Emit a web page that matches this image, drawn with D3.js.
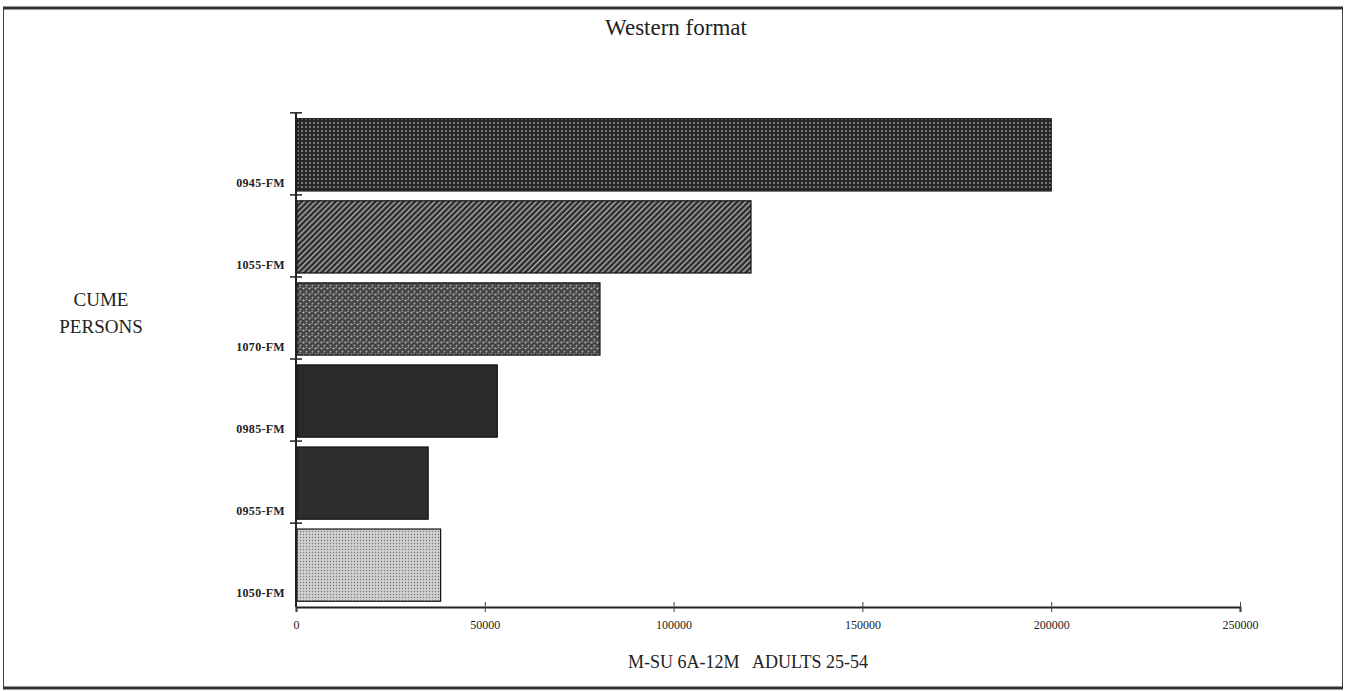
<!DOCTYPE html>
<html>
<head>
<meta charset="utf-8">
<script src="https://cdn.jsdelivr.net/npm/d3@7"></script>
<style>
  body { margin: 0; background: #fff; }
  svg text { font-family: "Liberation Serif", "DejaVu Serif", serif; fill: #222; }
  .tickLabel { font-size: 12px; }
  .stationLabel { font-size: 12px; font-weight: bold; letter-spacing: 0.3px; }
</style>
</head>
<body>
<div id="chart"></div>
<script>
// data
let stations = ["0945-FM", "1055-FM", "1070-FM", "0985-FM", "0955-FM", "1050-FM"];
let cume = [200000, 120500, 80500, 53300, 35000, 38300];
let xTicks = [0, 50000, 100000, 150000, 200000, 250000];

let svgWidth = 1347;
let svgHeight = 691;

let margin = { top: 113, right: 107, bottom: 84, left: 296 };
let width = svgWidth - margin.left - margin.right;
let height = svgHeight - margin.top - margin.bottom;

let svg = d3.select("#chart")
    .append("svg")
    .attr("width", svgWidth)
    .attr("height", svgHeight);

// fill textures that mimic the printed shading
let defs = svg.append("defs");

let p1 = defs.append("pattern").attr("id", "dots").attr("width", 4).attr("height", 4)
    .attr("patternUnits", "userSpaceOnUse");
p1.append("rect").attr("width", 4).attr("height", 4).attr("fill", "#262626");
p1.append("circle").attr("cx", 2).attr("cy", 2).attr("r", 0.9).attr("fill", "#a0a0a0");

let p2 = defs.append("pattern").attr("id", "hatch").attr("width", 4).attr("height", 4)
    .attr("patternUnits", "userSpaceOnUse").attr("patternTransform", "rotate(45)");
p2.append("rect").attr("width", 4).attr("height", 4).attr("fill", "#2c2c2c");
p2.append("rect").attr("x", 0).attr("width", 1.4).attr("height", 4).attr("fill", "#b0b0b0");

let p3 = defs.append("pattern").attr("id", "mottle").attr("width", 6).attr("height", 6)
    .attr("patternUnits", "userSpaceOnUse");
p3.append("rect").attr("width", 6).attr("height", 6).attr("fill", "#444");
p3.append("circle").attr("cx", 1.5).attr("cy", 1.5).attr("r", 1.1).attr("fill", "#b5b5b5");
p3.append("circle").attr("cx", 4.5).attr("cy", 4.5).attr("r", 1.1).attr("fill", "#9a9a9a");
p3.append("rect").attr("x", 3).attr("y", 0).attr("width", 2).attr("height", 1).attr("fill", "#888");

let p4 = defs.append("pattern").attr("id", "light").attr("width", 3).attr("height", 3)
    .attr("patternUnits", "userSpaceOnUse");
p4.append("rect").attr("width", 3).attr("height", 3).attr("fill", "#d0d0d0");
p4.append("circle").attr("cx", 1.5).attr("cy", 1.5).attr("r", 0.7).attr("fill", "#777");

let fills = ["url(#dots)", "url(#hatch)", "url(#mottle)", "#2a2a2a", "#2d2d2d", "url(#light)"];

// frame around the whole figure
svg.append("rect")
    .attr("x", 3.5).attr("y", 8.5)
    .attr("width", 1339).attr("height", 679)
    .attr("fill", "none").attr("stroke", "#444").attr("stroke-width", 1);
svg.append("line")
    .attr("x1", 3).attr("x2", 1343).attr("y1", 8).attr("y2", 8)
    .attr("stroke", "#333").attr("stroke-width", 3);
svg.append("line")
    .attr("x1", 3).attr("x2", 1343).attr("y1", 688).attr("y2", 688)
    .attr("stroke", "#333").attr("stroke-width", 3);

let chartGroup = svg.append("g")
    .attr("transform", `translate(${margin.left}, ${margin.top})`);

// scales
let xLinearScale = d3.scaleLinear()
    .domain([0, 250000])
    .range([0, width]);

let yBandScale = d3.scaleBand()
    .domain(stations)
    .range([0, height])
    .paddingInner(0.12)
    .paddingOuter(0.07);

// bars
chartGroup.selectAll("rect.bar")
    .data(stations)
    .enter()
    .append("rect")
    .attr("class", "bar")
    .attr("x", 1)
    .attr("y", d => yBandScale(d))
    .attr("width", (d, i) => xLinearScale(cume[i]) - 1)
    .attr("height", yBandScale.bandwidth())
    .attr("fill", (d, i) => fills[i])
    .attr("stroke", "#111")
    .attr("stroke-width", 1.2);

// x axis, ticks crossing the line
let bottomAxis = d3.axisBottom(xLinearScale)
    .tickValues(xTicks)
    .tickSize(5)
    .tickPadding(8)
    .tickFormat(d3.format("d"));

let xAxisG = chartGroup.append("g")
    .attr("transform", `translate(0, ${height})`)
    .call(bottomAxis);
xAxisG.select(".domain").attr("stroke", "#222").attr("stroke-width", 2);
xAxisG.selectAll(".tick line").attr("y1", -5).attr("y2", 5).attr("stroke", "#444");
xAxisG.selectAll(".tick text")
    .attr("class", "tickLabel")
    .attr("font-family", null)
    .attr("font-size", null);

// y axis: vertical line with ticks at band boundaries
let step = yBandScale.step();
chartGroup.append("line")
    .attr("x1", 0).attr("x2", 0)
    .attr("y1", 0).attr("y2", height)
    .attr("stroke", "#222").attr("stroke-width", 2);

chartGroup.selectAll("line.ytick")
    .data(stations)
    .enter()
    .append("line")
    .attr("class", "ytick")
    .attr("x1", -6).attr("x2", 6)
    .attr("y1", d => yBandScale(d) - yBandScale.paddingInner() * step / 2 - 1)
    .attr("y2", d => yBandScale(d) - yBandScale.paddingInner() * step / 2 - 1)
    .attr("stroke", "#222").attr("stroke-width", 1.5);

// station labels sit at the bottom of each band
chartGroup.selectAll("text.stationLabel")
    .data(stations)
    .enter()
    .append("text")
    .attr("class", "stationLabel")
    .attr("x", -11)
    .attr("y", d => yBandScale(d) + yBandScale.bandwidth() - 4)
    .attr("text-anchor", "end")
    .text(d => d);

// titles
svg.append("text")
    .attr("x", 676).attr("y", 35)
    .attr("text-anchor", "middle")
    .attr("font-size", "23px")
    .text("Western format");

svg.append("text")
    .attr("x", 101).attr("y", 306)
    .attr("text-anchor", "middle")
    .attr("font-size", "19px")
    .text("CUME");
svg.append("text")
    .attr("x", 101).attr("y", 333)
    .attr("text-anchor", "middle")
    .attr("font-size", "19px")
    .text("PERSONS");

svg.append("text")
    .attr("x", 748).attr("y", 668)
    .attr("text-anchor", "middle")
    .attr("font-size", "18px")
    .attr("xml:space", "preserve")
    .text("M-SU 6A-12M   ADULTS 25-54");
</script>
</body>
</html>
